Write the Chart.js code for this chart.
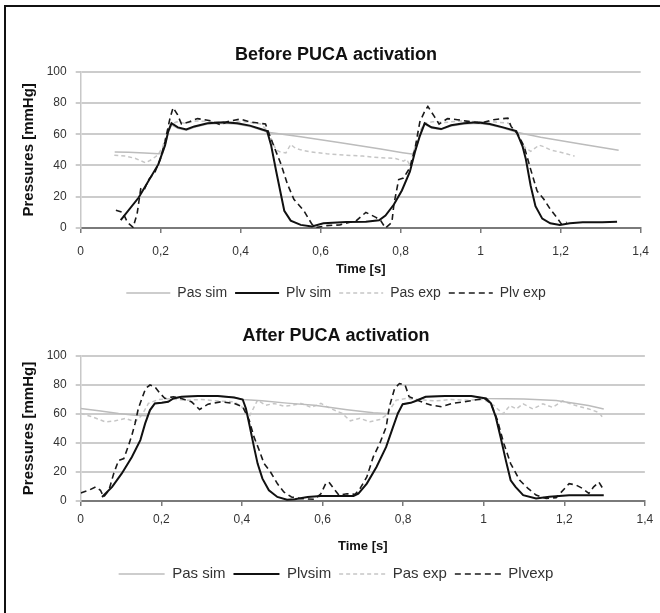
<!DOCTYPE html>
<html lang="en">
<head>
    <meta charset="UTF-8">
    <title>PUCA activation pressures</title>
    <script src="https://cdn.jsdelivr.net/npm/chart.js"></script>
    <style>
        body {
            margin: 0;
            background: #fff;
            width: 660px;
            height: 613px;
            overflow: hidden;
            position: relative;
        }
        #frame {
            position: absolute;
            left: 4px;
            top: 5px;
            right: 0;
            bottom: 0;
            border-left: 2px solid #111;
            border-top: 2px solid #111;
        }
        .box {
            position: absolute;
            left: 0;
            width: 660px;
        }
        #topBox { top: 0; height: 310px; }
        #bottomBox { top: 310px; height: 303px; }
    </style>
</head>
<body>
    <div id="frame"></div>
    <div class="box" id="topBox"><canvas id="chartBefore" width="660" height="310"></canvas></div>
    <div class="box" id="bottomBox"><canvas id="chartAfter" width="660" height="303"></canvas></div>

    <script>
        // x tick labels use a decimal comma
        const xTickLabels = ['0', '0,2', '0,4', '0,6', '0,8', '1', '1,2', '1,4'];

        // Before PUCA activation: [time s, pressure mmHg]
        const pasSimBefore = [[0.085,48.7],[0.12,48.4],[0.16,48],[0.195,47.5],[0.205,48],[0.211,53],[0.219,61],[0.227,66],[0.243,63.8],[0.264,62.5],[0.284,64.5],[0.317,66.5],[0.358,67],[0.391,66.5],[0.423,65],[0.448,63],[0.468,61.3],[0.55,58.4],[0.65,54.5],[0.75,50.6],[0.805,48.2],[0.828,47.3],[0.836,49],[0.848,59],[0.860,66.5],[0.877,64],[0.901,63],[0.926,65.3],[0.958,66.6],[0.991,67],[1.023,66],[1.056,64],[1.09,61.3],[1.15,58],[1.25,53.8],[1.345,49.8]];
        const plvSimBefore = [[0.100,5],[0.145,19.5],[0.194,40.7],[0.211,53],[0.219,62],[0.227,67],[0.243,64.4],[0.264,63],[0.284,65],[0.317,67],[0.358,67.6],[0.391,67],[0.423,65.5],[0.448,63.5],[0.466,62],[0.476,53],[0.489,36],[0.501,21],[0.509,11],[0.525,4.7],[0.550,2],[0.578,1],[0.607,3],[0.664,3.8],[0.713,4],[0.746,5],[0.762,8],[0.783,15],[0.803,24],[0.823,36],[0.836,49],[0.848,59],[0.860,67],[0.877,64.4],[0.901,63.3],[0.926,65.7],[0.958,67],[0.991,67.6],[1.023,66.5],[1.056,64.4],[1.089,62],[1.105,52],[1.113,44],[1.125,27],[1.137,14],[1.154,6],[1.174,3],[1.198,2],[1.223,3],[1.255,3.6],[1.304,3.6],[1.341,4]];
        const pasExpBefore = [[0.084,46.6],[0.113,46],[0.137,44.5],[0.162,41.7],[0.178,43.9],[0.194,47],[0.205,52],[0.215,60],[0.225,66],[0.24,68],[0.26,67],[0.29,68.5],[0.33,68],[0.37,67.5],[0.41,68],[0.45,66.5],[0.468,62],[0.478,56],[0.488,50],[0.50,48.5],[0.513,48],[0.525,53.5],[0.537,51],[0.55,50],[0.574,48.7],[0.615,47.5],[0.664,46.6],[0.705,46],[0.746,45],[0.787,44.5],[0.807,42.8],[0.815,44],[0.823,40],[0.836,52],[0.848,62],[0.86,67],[0.88,68],[0.91,67.5],[0.95,68.5],[0.99,68],[1.03,68],[1.07,67],[1.093,59],[1.109,52],[1.125,49],[1.146,53],[1.158,52],[1.174,50],[1.207,48],[1.235,46]];
        const plvExpBefore = [[0.088,11.4],[0.105,10],[0.117,3.6],[0.131,0.4],[0.141,9],[0.150,25],[0.158,24],[0.170,31],[0.186,36],[0.199,44],[0.211,55.5],[0.223,70],[0.231,77],[0.242,72.5],[0.252,66.5],[0.272,68],[0.292,70],[0.325,68.6],[0.350,66],[0.366,68],[0.399,69.7],[0.423,67.8],[0.448,67],[0.462,66.5],[0.472,59.7],[0.485,51],[0.501,40.7],[0.517,28],[0.533,18.4],[0.558,11],[0.578,2.5],[0.591,0.4],[0.615,1.5],[0.648,2],[0.689,4.7],[0.713,10],[0.738,6.8],[0.750,4.7],[0.762,0],[0.778,3.6],[0.783,15],[0.795,31],[0.807,32],[0.823,38.6],[0.836,51],[0.848,68],[0.860,74.6],[0.868,77.8],[0.884,71.4],[0.896,66.5],[0.917,70],[0.942,69.3],[0.975,68],[0.999,67],[1.032,69.3],[1.068,70.3],[1.076,65],[1.093,60],[1.109,52],[1.125,37.5],[1.141,23.7],[1.158,18.4],[1.174,12],[1.190,6.8],[1.202,2.5],[1.215,3.6]];

        // After PUCA activation: [time s, pressure mmHg]
        const pasSimAfter = [[0,63.8],[0.045,62.2],[0.094,60.4],[0.135,59.2],[0.165,58.8],[0.172,62.7],[0.184,67.3],[0.201,67.7],[0.217,68.4],[0.230,70.7],[0.250,71.9],[0.291,72.4],[0.340,72.4],[0.381,71.4],[0.402,70],[0.45,69.2],[0.512,67.5],[0.58,66],[0.661,63],[0.726,60.8],[0.765,60.2],[0.787,60.5],[0.799,66.8],[0.819,67.7],[0.831,69],[0.856,71.9],[0.904,72.4],[0.969,72.4],[1.006,70.7],[1.10,70.3],[1.18,69.3],[1.26,65.8],[1.298,63.5]];
        const plvSimAfter = [[0.053,2.8],[0.078,9.7],[0.102,19],[0.127,30.4],[0.148,42],[0.160,53.5],[0.172,62.7],[0.184,67.3],[0.201,67.7],[0.217,68.4],[0.230,70.7],[0.250,71.9],[0.291,72.4],[0.340,72.4],[0.381,71.4],[0.402,70],[0.410,63.8],[0.418,53.5],[0.430,37.3],[0.439,25.8],[0.451,15.4],[0.467,7.4],[0.488,2.8],[0.512,0.9],[0.531,1.2],[0.563,2.8],[0.596,3.5],[0.677,3.5],[0.689,5],[0.710,12],[0.734,23.5],[0.758,37.3],[0.775,51],[0.787,60.4],[0.799,66.8],[0.819,67.7],[0.831,69],[0.856,71.9],[0.904,72.4],[0.969,72.4],[1.006,70.7],[1.018,67.3],[1.030,58],[1.042,44],[1.055,28],[1.067,14.3],[1.079,9.7],[1.098,4],[1.130,1.8],[1.163,3],[1.212,3.9],[1.298,3.9]];
        const pasExpAfter = [[0,60.4],[0.029,58],[0.061,54.6],[0.086,55.3],[0.111,57],[0.135,54.6],[0.152,59.2],[0.168,67.3],[0.193,70],[0.22,70.5],[0.26,69.5],[0.30,70],[0.34,69],[0.38,68.5],[0.406,63.8],[0.418,58],[0.439,69.6],[0.459,66],[0.480,67.3],[0.504,65.4],[0.523,66],[0.547,67.3],[0.572,64.5],[0.596,67.3],[0.620,63.8],[0.649,60.4],[0.669,55.3],[0.693,57],[0.718,54.6],[0.742,56.2],[0.758,59.2],[0.783,69.6],[0.807,70.7],[0.84,70],[0.88,69],[0.92,70],[0.96,69.5],[1.00,70],[1.025,66],[1.048,60],[1.065,65.8],[1.081,63.5],[1.098,67],[1.122,63.5],[1.147,67],[1.171,64.6],[1.196,69],[1.229,65.8],[1.261,63.5],[1.286,61],[1.298,56.6]];
        const plvExpAfter = [[0,5.5],[0.020,7.4],[0.037,9.7],[0.049,7.4],[0.057,2.8],[0.070,7.4],[0.082,19],[0.094,28],[0.107,29.3],[0.119,38.5],[0.127,45.4],[0.135,53.5],[0.143,63.8],[0.152,70.7],[0.161,77.6],[0.172,80],[0.184,78.8],[0.197,74.2],[0.209,70.7],[0.230,71.9],[0.250,70.7],[0.275,68.4],[0.295,63.1],[0.316,66.8],[0.348,68.4],[0.381,67.3],[0.402,65],[0.418,55.8],[0.430,44.2],[0.443,35],[0.455,25.8],[0.471,20],[0.488,12],[0.504,6.2],[0.523,2.8],[0.547,1.6],[0.580,1.2],[0.596,5],[0.608,12],[0.616,13],[0.628,8.5],[0.641,4],[0.661,5],[0.681,4.6],[0.693,8.5],[0.710,16.6],[0.726,30.4],[0.742,39.6],[0.758,51],[0.766,65],[0.779,77.6],[0.791,81],[0.805,80],[0.815,71.9],[0.831,70],[0.856,67.3],[0.872,66],[0.896,65],[0.921,67.3],[0.953,68.4],[0.977,69.6],[1.002,70.7],[1.018,67.3],[1.034,55.8],[1.050,39.6],[1.067,25.8],[1.089,14.4],[1.110,8.7],[1.130,4.1],[1.155,1.8],[1.180,2.3],[1.212,12],[1.229,11],[1.245,8.7],[1.261,5.3],[1.273,9.8],[1.286,13],[1.298,7.5]];

        const legendBefore = ['Pas sim', 'Plv sim', 'Pas exp', 'Plv exp'];
        const legendAfter = ['Pas sim', 'Plvsim', 'Pas exp', 'Plvexp'];

        const FONT = "'Liberation Sans', Arial, sans-serif";

        // Pas sim, Plv sim, Pas exp, Plv exp
        const styles = [
            {color: '#bcbcbc', width: 1.5, dash: [], order: 3},
            {color: '#111111', width: 2, dash: [], order: 1},
            {color: '#c6c6c6', width: 1.5, dash: [4, 3], order: 4},
            {color: '#1a1a1a', width: 1.6, dash: [6, 4], order: 2}
        ];

        // legend samples keep the dataset's own line style (dash included)
        function legendLabels(chart) {
            const items = Chart.defaults.plugins.legend.labels.generateLabels(chart);
            items.forEach(item => {
                const ds = chart.data.datasets[item.datasetIndex];
                item.strokeStyle = ds.borderColor;
                item.lineWidth = ds.borderWidth;
                item.lineDash = ds.borderDash;
            });
            return items.sort((a, b) => a.datasetIndex - b.datasetIndex);
        }

        function makeChart(id, cfg) {
            const datasets = cfg.series.map((pts, i) => ({
                label: cfg.labels[i],
                data: pts.map(p => ({x: p[0], y: p[1]})),
                borderColor: styles[i].color,
                backgroundColor: styles[i].color,
                borderWidth: styles[i].width,
                borderDash: styles[i].dash,
                order: styles[i].order,
                pointRadius: 0,
                tension: 0,
                fill: false
            }));

            return new Chart(document.getElementById(id), {
                type: 'line',
                data: {datasets: datasets},
                options: {
                    responsive: false,
                    animation: false,
                    layout: {padding: cfg.pad},
                    plugins: {
                        title: {
                            display: true,
                            text: cfg.title,
                            color: '#111',
                            font: {family: FONT, size: 18, weight: 'bold'},
                            padding: cfg.titlePad
                        },
                        legend: {
                            position: 'bottom',
                            labels: {
                                usePointStyle: true,
                                pointStyle: 'line',
                                pointStyleWidth: cfg.legendBox,
                                color: '#333',
                                padding: 8,
                                font: {family: FONT, size: cfg.legendSize},
                                generateLabels: legendLabels
                            }
                        },
                        tooltip: {enabled: false}
                    },
                    scales: {
                        x: {
                            type: 'linear',
                            min: 0,
                            max: 1.4,
                            ticks: {
                                stepSize: 0.2,
                                autoSkip: false,
                                maxRotation: 0,
                                padding: cfg.xTickPad,
                                color: '#333',
                                font: {family: FONT, size: 12},
                                callback: v => xTickLabels[Math.round(v / 0.2)]
                            },
                            grid: {drawOnChartArea: false, drawTicks: true, tickLength: 5, color: '#7a7a7a', lineWidth: 1.5},
                            border: {color: '#7a7a7a', width: 2},
                            title: {
                                display: true,
                                text: 'Time [s]',
                                color: '#111',
                                font: {family: FONT, size: 13, weight: 'bold'},
                                padding: cfg.xTitlePad
                            },
                            afterFit: s => { s.height = cfg.xHeight; }
                        },
                        y: {
                            min: 0,
                            max: 100,
                            ticks: {stepSize: 20, padding: 9, color: '#333', font: {family: FONT, size: 12}},
                            grid: {color: '#cccccc', lineWidth: 2, tickLength: 5},
                            border: {color: '#c8c8c8', width: 1.5},
                            title: {
                                display: true,
                                text: 'Pressures [mmHg]',
                                color: '#111',
                                font: {family: FONT, size: 15, weight: 'bold'},
                                padding: 0
                            },
                            afterFit: s => { s.width = 60.7; }
                        }
                    }
                }
            });
        }

        makeChart('chartBefore', {
            title: 'Before PUCA activation',
            labels: legendBefore,
            series: [pasSimBefore, plvSimBefore, pasExpBefore, plvExpBefore],
            pad: {top: 36, left: 20, right: 8, bottom: 0},
            titlePad: {top: 8, bottom: 6.1},
            xTickPad: 11,
            xTitlePad: {top: 3, bottom: 1.2},
            xHeight: 50,
            legendBox: 44,
            legendSize: 14
        });

        makeChart('chartAfter', {
            title: 'After PUCA activation',
            labels: legendAfter,
            series: [pasSimAfter, plvSimAfter, pasExpAfter, plvExpAfter],
            pad: {top: 6, left: 20, right: 8, bottom: 21.5},
            titlePad: {top: 8.8, bottom: 9.6},
            xTickPad: 6.8,
            xTitlePad: {top: 11.7, bottom: 4},
            xHeight: 57.5,
            legendBox: 46,
            legendSize: 15
        });
    </script>
</body>
</html>
